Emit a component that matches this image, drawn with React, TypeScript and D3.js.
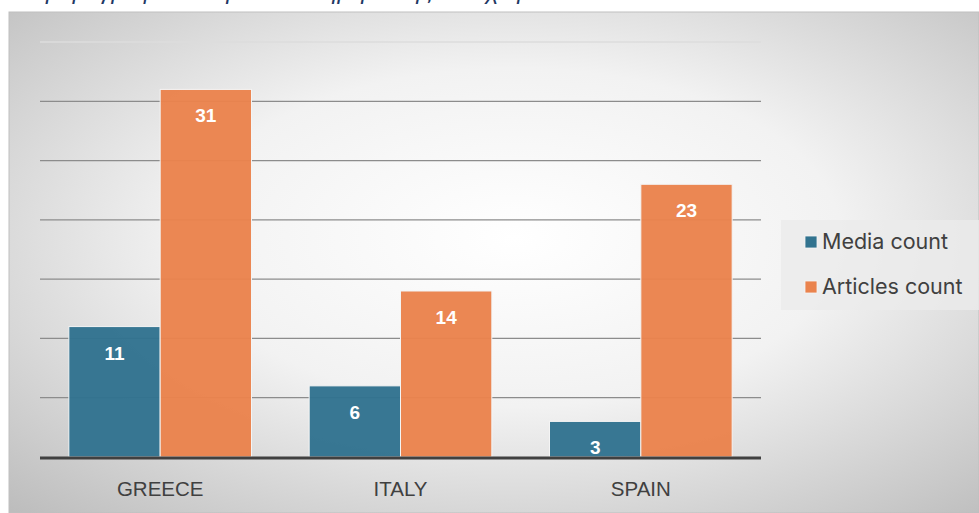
import React, { useEffect, useRef } from "react";
import * as d3 from "d3";

const categories = ["GREECE", "ITALY", "SPAIN"];
const mediaCount = [11, 6, 3];
const articlesCount = [31, 14, 23];
const seriesNames = ["Media count", "Articles count"];
const yTicks = [0, 5, 10, 15, 20, 25, 30, 35];
const titleText = "Αρθρογραφία των μέσων ενημέρωσης ανά χώρα";

export default function App() {
  const svgRef = useRef<SVGSVGElement>(null);
  const width = 979;
  const height = 513;

  useEffect(() => {
    if (!svgRef.current) return;
    const svg = d3.select(svgRef.current);
    svg.selectAll("*").remove();

    const defs = svg.append("defs");
    const grad = defs.append("radialGradient")
      .attr("id", "bg")
      .attr("cx", "52%").attr("cy", "45%").attr("r", "75%");
    grad.append("stop").attr("offset", "0%").attr("stop-color", "#ffffff");
    grad.append("stop").attr("offset", "45%").attr("stop-color", "#f2f2f2");
    grad.append("stop").attr("offset", "100%").attr("stop-color", "#bdbdbd");

    // title, cut off by the top of the picture as in the source screenshot
    svg.append("text")
      .attr("x", 30)
      .attr("y", -1)
      .attr("fill", "#1f3864")
      .attr("font-style", "italic")
      .attr("font-size", "24px")
      .attr("font-family", "Liberation Sans, Arial, sans-serif")
      .text(titleText);

    svg.append("rect")
      .attr("x", 9).attr("y", 12)
      .attr("width", width - 9).attr("height", height - 12)
      .attr("fill", "url(#bg)")
      .attr("stroke", "#bfbfbf").attr("stroke-width", 1);

    const left = 40, right = 761, top = 42, bottom = 457;

    const x0 = d3.scaleBand().domain(categories).range([left, right]).paddingInner(0.24).paddingOuter(0.12);
    const x1 = d3.scaleBand().domain(seriesNames).range([0, x0.bandwidth()]).padding(0);
    const y = d3.scaleLinear().domain([0, 35]).range([bottom, top]);

    const g = svg.append("g");

    // grid
    g.append("g")
      .selectAll("line")
      .data(yTicks.slice(1))
      .enter()
      .append("line")
      .attr("x1", left).attr("x2", right)
      .attr("y1", (d) => y(d)).attr("y2", (d) => y(d))
      .attr("stroke", (d) => (d === 35 ? "#dcdcdc" : "#8c8c8c"))
      .attr("stroke-width", 1.3);

    const colors = ["#32738f", "#ea834d"];
    const series = [mediaCount, articlesCount];

    series.forEach((vals, si) => {
      const grp = g.append("g");
      grp.selectAll("rect")
        .data(vals)
        .enter()
        .append("rect")
        .attr("x", (_, i) => (x0(categories[i]) || 0) + (x1(seriesNames[si]) || 0))
        .attr("width", x1.bandwidth())
        .attr("y", (d) => y(d))
        .attr("height", (d) => bottom - y(d))
        .attr("fill", colors[si])
        .attr("fill-opacity", 0.97)
        .attr("stroke", "#f4f4f4")
        .attr("stroke-width", 1);

      grp.selectAll("text")
        .data(vals)
        .enter()
        .append("text")
        .attr("x", (_, i) => (x0(categories[i]) || 0) + (x1(seriesNames[si]) || 0) + x1.bandwidth() / 2)
        .attr("y", (d) => y(d) + 33)
        .attr("text-anchor", "middle")
        .attr("fill", "#ffffff")
        .attr("font-weight", "bold")
        .attr("font-size", "19px")
        .attr("font-family", "Liberation Sans, Arial, sans-serif")
        .text((d) => d);
    });

    // baseline
    g.append("line")
      .attr("x1", left).attr("x2", right)
      .attr("y1", bottom + 1).attr("y2", bottom + 1)
      .attr("stroke", "#404040")
      .attr("stroke-width", 3);

    // category labels
    g.append("g")
      .selectAll("text")
      .data(categories)
      .enter()
      .append("text")
      .attr("x", (d) => (x0(d) || 0) + x0.bandwidth() / 2)
      .attr("y", 496)
      .attr("text-anchor", "middle")
      .attr("fill", "#404040")
      .attr("font-size", "20.5px")
      .attr("font-family", "Liberation Sans, Arial, sans-serif")
      .text((d) => d);

    // legend
    const lg = svg.append("g");
    lg.append("rect")
      .attr("x", 781).attr("y", 220)
      .attr("width", 198).attr("height", 90)
      .attr("fill", "#ebebeb").attr("fill-opacity", 0.8);
    seriesNames.forEach((name, i) => {
      const ly = 242 + i * 45;
      lg.append("rect")
        .attr("x", 805).attr("y", ly - 6)
        .attr("width", 12).attr("height", 12)
        .attr("fill", colors[i])
        .attr("stroke", "#f4f4f4").attr("stroke-width", 0.8);
      lg.append("text")
        .attr("x", 822).attr("y", ly + 7)
        .attr("fill", "#404040")
        .attr("font-size", "21.5px")
        .attr("font-family", "Inter, Noto Sans, sans-serif")
        .text(name);
    });
  }, []);

  return (
    <svg
      ref={svgRef}
      width={width}
      height={height}
      style={{ position: "absolute", left: 0, top: 0, display: "block" }}
    />
  );
}
